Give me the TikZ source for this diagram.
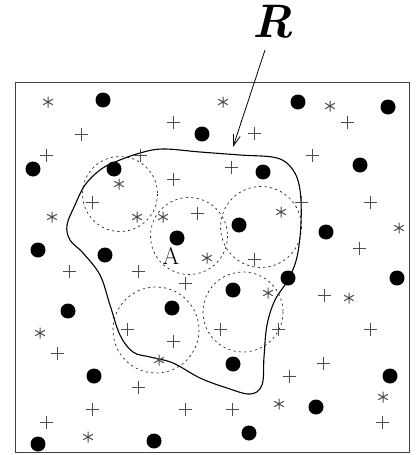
\documentclass[tikz,border=0pt]{standalone}
\usepackage{fontspec}
\usetikzlibrary{arrows.meta}
\begin{document}
\begin{tikzpicture}[x=1pt,y=-1pt,
  dotmark/.style={circle,fill=black,inner sep=0pt,minimum size=15pt},
  dcirc/.style={draw=black!85,line width=0.7pt,dash pattern=on 2.2pt off 3.2pt},
  frame/.style={draw=black!75,line width=1pt},
  region/.style={draw=black,line width=1.1pt},
  symline/.style={draw=black!70,line width=0.9pt},
  pointer/.style={draw=black,line width=0.8pt,-{Straight Barb[length=11pt,width=7pt]}}
]
\useasboundingbox (0,0) rectangle (415,455);
\newcommand{\pmark}[2]{\draw[symline] (#1-6.5,#2) -- (#1+6.5,#2) (#1,#2-6.5) -- (#1,#2+6.5);}
\newcommand{\amark}[2]{\draw[symline,line width=1pt] (#1,#2-5.5) -- (#1,#2+5.5) (#1-4.8,#2-2.75) -- (#1+4.8,#2+2.75) (#1-4.8,#2+2.75) -- (#1+4.8,#2-2.75);}
% frame
\draw[frame] (15,82) rectangle (409,452);
% dashed circles
\draw[dcirc] (120,194) circle (37.5);
\draw[dcirc] (189,236) circle (38.5);
\draw[dcirc] (261,227) circle (40.5);
\draw[dcirc] (243,312) circle (40);
\draw[dcirc] (156,330) circle (43);
% region R
\draw[region] plot[smooth cycle,tension=0.6] coordinates {
 (140,153) (163,149) (200,152) (240,155) (277,158) (293,170) (300,190)
 (301,223) (297,257) (288,280) (275,300) (267,325) (264,357) (262,385)
 (250,394) (227,388) (200,378) (173,363) (150,357) (133,352) (120,335)
 (110,305) (100,275) (83,253) (70,240) (67,225) (75,205) (85,185)
 (100,170) (115,162)};
% label R and pointer
\node (R) at (273,22) {\fontsize{47}{50}\selectfont\bfseries\itshape R};
\coordinate (Rs) at (265,50);
\coordinate (Rt) at (233,147);
\draw[pointer] (Rs) -- (Rt);
% dots
\foreach \x/\y in {103/100,298/102,388/107,202/134,360/165,33/169,114/169,263/172,
  239/225,326/232,177/238,38/250,105/255,288/278,397/278,233/290,68/311,172/308,
  94/376,233/364,390/376,316/407,249/433,154/441,38/444}
  {\node[dotmark] at (\x,\y) {};}
% node A label
\node (A) at (171,256) {\fontsize{24}{26}\selectfont A};
% pluses
\foreach \x/\y in {173/122,81/134,254/133,347/122,46/155,140/155,312/155,
  231/167,173/179,92/202,301/202,370/202,197/213,359/248,69/271,138/271,
  254/259,185/283,324/295,127/329,173/341,220/329,278/329,370/329,57/353,
  323/363,289/376,138/387,92/409,185/409,232/409,46/422,382/422}
  {\pmark{\x}{\y}}
% asterisks
\foreach \x/\y in {48/102,223/102,330/106,119/184,52/217,137/217,163/217,
  281/212,399/228,207/258,268/293,349/298,40/333,159/360,279/404,383/397,88/437}
  {\amark{\x}{\y}}
\end{tikzpicture}
\end{document}
